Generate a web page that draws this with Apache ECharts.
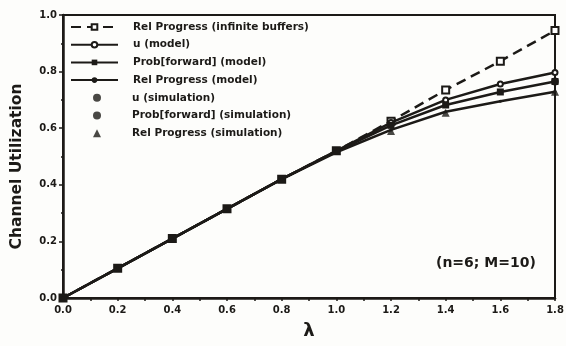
<!DOCTYPE html>
<html>
<head>
<meta charset="utf-8">
<script src="https://cdn.jsdelivr.net/npm/echarts@6/dist/echarts.min.js"></script>
<style>
html, body { margin: 0; padding: 0; background: #fdfdfb; }
#main { width: 566px; height: 346px; }
</style>
</head>
<body>
<div id="main"></div>
<script>
// lambda values along the x axis
var lambdas = [0.0, 0.2, 0.4, 0.6, 0.8, 1.0, 1.2, 1.4, 1.6, 1.8];

var relInfinite = [0, 0.105, 0.21, 0.315, 0.42, 0.52, 0.625, 0.735, 0.837, 0.945];
var uModel      = [0, 0.105, 0.21, 0.315, 0.42, 0.52, 0.62, 0.70, 0.756, 0.797];
var probModel   = [0, 0.105, 0.21, 0.315, 0.42, 0.518, 0.61, 0.682, 0.728, 0.765];
var relModel    = [0, 0.105, 0.21, 0.315, 0.42, 0.515, 0.594, 0.658, 0.695, 0.729];

// simulation points [lambda, value]
var uSim    = [[1.0, 0.52], [1.2, 0.618]];
var probSim = [[1.8, 0.765]];
var relSim  = [[1.2, 0.59], [1.4, 0.655], [1.8, 0.729]];

var modelNames = ['Rel Progress (infinite buffers)', 'u (model)', 'Prob[forward] (model)', 'Rel Progress (model)'];
var simNames = ['u (simulation)', 'Prob[forward] (simulation)', 'Rel Progress (simulation)'];

var ink = '#1c1a17';
var font = 'DejaVu Sans';

function pairs(ys)
{
	return lambdas.map(function(x, i) { return [x, ys[i]]; });
}

var chart = echarts.init(document.getElementById('main'));

var legendText = { fontFamily: font, fontWeight: 'bold', fontSize: 10.5, color: ink, lineHeight: 12 };

var options =
{
	backgroundColor: '#fdfdfb',
	animation: false,
	grid: { left: 63, right: 11, top: 15, bottom: 48, show: true, borderColor: ink, borderWidth: 2, outerBoundsMode: 'none', containLabel: false },
	legend:
	[
		{
			orient: 'vertical',
			left: 65,
			top: 16,
			itemWidth: 47,
			itemHeight: 7,
			itemGap: 5.7,
			textStyle: Object.assign({ padding: [0, 0, 0, 10] }, legendText),
			data: modelNames
		},
		{
			orient: 'vertical',
			left: 88,
			top: 86.8,
			itemWidth: 8,
			itemHeight: 8,
			itemGap: 5.7,
			textStyle: Object.assign({ padding: [0, 0, 0, 26] }, legendText),
			data: simNames
		}
	],
	xAxis:
	{
		type: 'value',
		min: 0,
		max: 1.8,
		interval: 0.2,
		name: 'λ',
		nameLocation: 'middle',
		nameGap: 24,
		nameTextStyle: { fontFamily: font, fontWeight: 'bold', fontSize: 18, color: ink },
		axisLine: { lineStyle: { color: ink, width: 2.5 } },
		axisTick: { lineStyle: { color: ink, width: 1.5 }, length: 3 },
		minorTick: { show: true, splitNumber: 2, length: 3, lineStyle: { color: ink, width: 1.5 } },
		splitLine: { show: false },
		axisLabel: { fontFamily: font, fontWeight: 'bold', fontSize: 10, color: ink, margin: 7, formatter: function(v) { return v.toFixed(1); } }
	},
	yAxis:
	{
		type: 'value',
		min: 0,
		max: 1.0,
		interval: 0.2,
		name: 'Channel Utilization',
		nameLocation: 'middle',
		nameGap: 38,
		nameTextStyle: { fontFamily: font, fontWeight: 'bold', fontSize: 15.5, color: ink, padding: [0, 20, 0, 0] },
		axisLine: { lineStyle: { color: ink, width: 2.5 } },
		axisTick: { lineStyle: { color: ink, width: 1.5 }, length: 4 },
		minorTick: { show: true, splitNumber: 2, length: 2, lineStyle: { color: ink, width: 1.5 } },
		splitLine: { show: false },
		axisLabel: { fontFamily: font, fontWeight: 'bold', fontSize: 10, color: ink, margin: 6, formatter: function(v) { return v.toFixed(1); } }
	},
	graphic:
	[
		{ type: 'text', left: 436, top: 256, style: { text: '(n=6; M=10)', font: 'bold 14px "DejaVu Sans"', fill: ink } }
	],
	series:
	[
		{
			name: modelNames[0], type: 'line', data: pairs(relInfinite),
			symbol: 'emptyRect', symbolSize: 7,
			lineStyle: { color: ink, width: 2.5, type: [10, 6] },
			itemStyle: { color: ink, borderColor: ink, borderWidth: 1.5 }
		},
		{
			name: modelNames[1], type: 'line', data: pairs(uModel),
			symbol: 'emptyCircle', symbolSize: 5,
			lineStyle: { color: ink, width: 2.5 },
			itemStyle: { color: ink, borderColor: ink, borderWidth: 1.5 }
		},
		{
			name: modelNames[2], type: 'line', data: pairs(probModel),
			symbol: 'rect', symbolSize: 7,
			lineStyle: { color: ink, width: 2.5 },
			itemStyle: { color: ink }
		},
		{
			name: modelNames[3], type: 'line', data: pairs(relModel),
			symbol: 'circle', symbolSize: 3,
			lineStyle: { color: ink, width: 2.5 },
			itemStyle: { color: ink }
		},
		{ name: simNames[0], type: 'scatter', data: uSim, symbol: 'circle', symbolSize: 6, itemStyle: { color: ink } },
		{ name: simNames[1], type: 'scatter', data: probSim, symbol: 'circle', symbolSize: 8, itemStyle: { color: ink } },
		{ name: simNames[2], type: 'scatter', data: relSim, symbol: 'triangle', symbolSize: 8, itemStyle: { color: ink } }
	]
};

chart.setOption(options);
</script>
</body>
</html>
